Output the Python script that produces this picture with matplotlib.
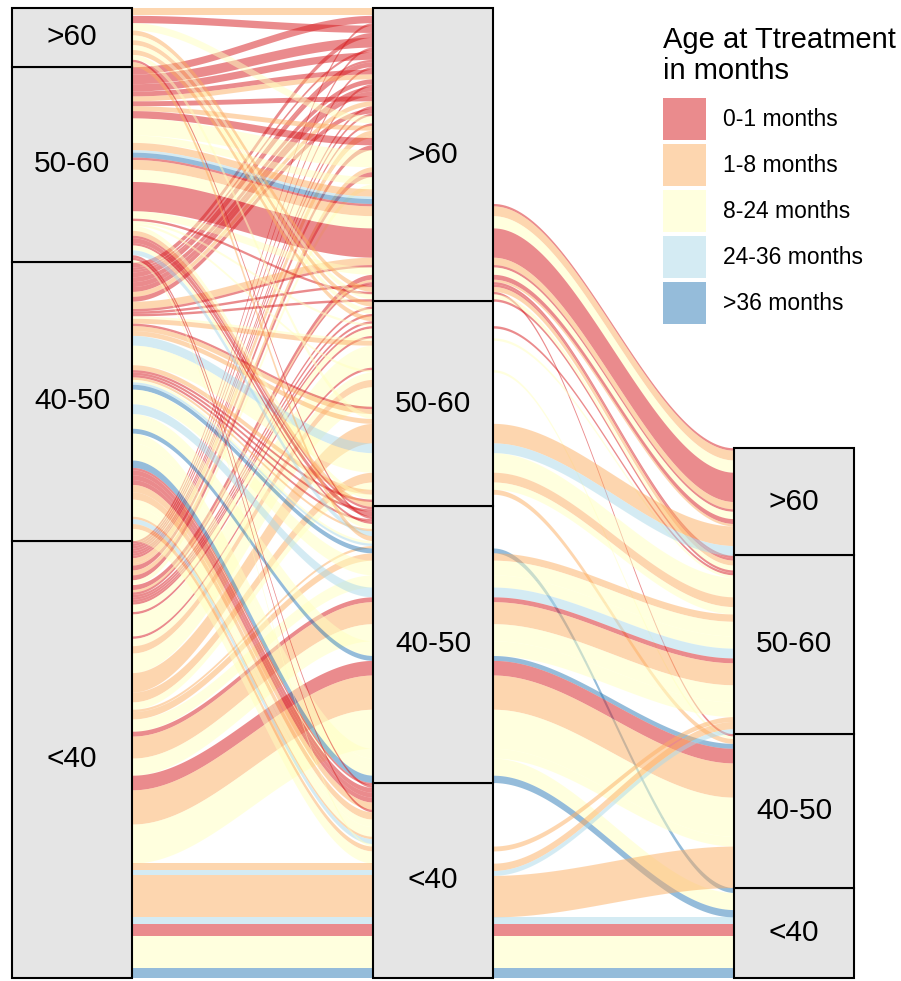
import numpy as np
import matplotlib.pyplot as plt
from matplotlib.patches import Rectangle

plt.rcParams['font.family'] = ['Liberation Sans', 'DejaVu Sans']

# fill groups and strata (strata listed top to bottom)
age_groups = ["0-1 months", "1-8 months", "8-24 months", "24-36 months", ">36 months"]
age_colors = ["#D7191C", "#FDAE61", "#FFFFBF", "#ABD9E9", "#2C7BB6"]
strata = [">60", "50-60", "40-50", "<40"]

# alluvia grouped by stratum on the 2nd axis
# (age group index, stratum on 1st axis, stratum on 3rd axis or None, count)
to_gt60 = [
    (1, ">60", None, 3), (0, "50-60", None, 3), (0, "<40", None, 1), (0, ">60", None, 3),
    (0, "40-50", None, 2), (0, "50-60", None, 4), (0, "<40", None, 1), (0, "40-50", None, 1),
    (0, "50-60", None, 3), (0, "40-50", None, 1), (0, "40-50", None, 2), (0, "<40", None, 1),
    (0, "50-60", None, 2), (1, "50-60", None, 2), (0, "40-50", None, 2), (0, "<40", None, 1),
    (0, "40-50", None, 2), (0, "40-50", None, 2), (0, "50-60", None, 2), (1, "40-50", None, 2),
    (0, "<40", None, 1), (0, "40-50", None, 2), (0, "<40", None, 1), (2, ">60", None, 3),
    (0, "<40", None, 1), (1, "50-60", None, 2), (1, "<40", None, 2), (1, "<40", None, 1),
    (0, "50-60", None, 3), (0, "<40", None, 2), (2, "50-60", None, 7), (1, "<40", None, 2),
    (0, "<40", None, 2), (2, "50-60", None, 3), (2, "<40", None, 2), (1, "50-60", None, 3),
    (3, "50-60", None, 1), (4, "50-60", None, 2),
    (0, "50-60", ">60", 1), (1, "50-60", ">60", 4), (2, "50-60", ">60", 5), (0, "50-60", ">60", 12),
    (1, "40-50", ">60", 3), (0, "40-50", ">60", 1), (2, "50-60", ">60", 3), (0, "<40", ">60", 2),
    (1, "<40", ">60", 1), (0, "<40", "50-60", 1), (0, "40-50", "50-60", 1), (1, ">60", "50-60", 2),
    (0, "50-60", "40-50", 1), (2, ">60", "50-60", 2), (0, "40-50", "50-60", 1),
]
to_50_60 = [
    (1, ">60", None, 2), (0, "<40", None, 1), (2, ">60", None, 2), (0, "<40", None, 1),
    (1, ">60", None, 2), (0, "<40", None, 1), (2, "50-60", None, 1), (0, "<40", "50-60", 1),
    (2, "<40", None, 3), (0, "<40", None, 1), (2, "40-50", "50-60", 1), (1, "40-50", None, 2),
    (2, "<40", None, 9), (0, "<40", None, 1), (2, "50-60", "40-50", 1), (2, "<40", None, 3),
    (1, "<40", None, 3), (2, "<40", None, 8), (0, "40-50", None, 1), (1, "40-50", None, 2),
    (2, ">60", None, 2), (1, "40-50", None, 2),
    (1, "<40", ">60", 8), (3, "40-50", ">60", 4), (2, "40-50", "50-60", 8), (1, "<40", "50-60", 4),
    (2, "<40", "50-60", 3), (1, "40-50", "40-50", 2), (2, "50-60", None, 2), (0, "40-50", None, 1),
    (1, "50-60", None, 2),
]
to_40_50 = [
    (0, "50-60", None, 1), (0, "40-50", None, 1), (0, "50-60", None, 2), (0, ">60", None, 1),
    (0, "40-50", None, 1), (0, "50-60", None, 1), (2, "50-60", None, 2), (1, "40-50", None, 1),
    (3, "50-60", None, 2), (1, ">60", None, 2), (2, "40-50", None, 1), (3, "40-50", None, 1),
    (1, "<40", None, 1),
    (4, "40-50", "<40", 2), (1, "<40", "50-60", 3), (2, "40-50", "50-60", 6), (2, "<40", "50-60", 5),
    (3, "40-50", "50-60", 4), (0, "<40", "50-60", 2), (1, "<40", "50-60", 9), (2, "<40", "50-60", 7),
    (2, "40-50", "50-60", 6), (4, "40-50", "40-50", 2), (0, "<40", "40-50", 6), (1, "<40", "40-50", 14),
    (2, "<40", "40-50", 16), (2, "40-50", "40-50", 4), (2, "40-50", "<40", 7), (4, "40-50", "<40", 3),
]
to_lt40 = [
    (0, "40-50", None, 1), (0, "50-60", None, 1), (0, "40-50", None, 2), (0, "40-50", None, 2),
    (0, "40-50", None, 2), (1, "40-50", None, 3), (0, "50-60", None, 1), (1, "40-50", None, 3),
    (2, "40-50", None, 3), (2, "40-50", None, 4), (1, "40-50", None, 1), (3, "40-50", None, 2),
    (2, "50-60", None, 1),
    (1, "40-50", "50-60", 2), (2, "40-50", None, 5), (1, "<40", "50-60", 3), (3, "<40", "50-60", 2),
    (1, "<40", "40-50", 17), (3, "<40", "<40", 3), (0, "<40", "<40", 5), (2, "<40", "<40", 13),
    (4, "<40", "<40", 4),
]

legend_title = ["Age at Ttreatment", "in months"]

rows = []
for s2, flows in zip(strata, [to_gt60, to_50_60, to_40_50, to_lt40]):
    for g, s1, s3, n in flows:
        rows.append((g, (s1, s2, s3), n))


def stack(k):
    # lodes are stacked from the bottom stratum up, first row on top within a stratum
    pos, ext, y = {}, {}, 0
    for s in reversed(strata):
        lo = y
        for i in reversed(range(len(rows))):
            if rows[i][1][k] == s:
                pos[i] = (y, y + rows[i][2])
                y += rows[i][2]
        if y > lo:
            ext[s] = (lo, y)
    return pos, ext


layout = [stack(k) for k in range(3)]
total = sum(r[2] for r in rows)
w = 1 / 3

fig = plt.figure(figsize=(9.01, 9.81), dpi=100)
ax = fig.add_axes([0, 0, 1, 1])
ax.set_xlim(1 - 72 / 361, 1 + 829 / 361)
ax.set_ylim(-3 * total / 970, total + 8 * total / 970)
ax.axis("off")

t = np.linspace(0, 1, 80)
s = t * t * (3 - 2 * t)
for k in range(2):
    x0, x1 = k + 1 + w / 2, k + 2 - w / 2
    xs = x0 + (x1 - x0) * t
    for i, (g, st, n) in enumerate(rows):
        if i not in layout[k][0] or i not in layout[k + 1][0]:
            continue
        b0, t0 = layout[k][0][i]
        b1, t1 = layout[k + 1][0][i]
        ax.fill_between(xs, b0 + (b1 - b0) * s, t0 + (t1 - t0) * s,
                        color=age_colors[g], alpha=0.5, lw=0, zorder=1)

for k in range(3):
    for name, (lo, hi) in layout[k][1].items():
        ax.add_patch(Rectangle((k + 1 - w / 2, lo), w, hi - lo, facecolor="#E5E5E5",
                               edgecolor="black", lw=1.5, zorder=3))
        ax.text(k + 1, (lo + hi) / 2, name, ha="center", va="center", fontsize=21.5, zorder=4)

# legend
fig.text(663 / 901, 1 - 48 / 981, legend_title[0], fontsize=21, va="baseline")
fig.text(663 / 901, 1 - 79 / 981, legend_title[1], fontsize=21, va="baseline")
for j, (lab, col) in enumerate(zip(age_groups, age_colors)):
    top = 98 + 46 * j
    fig.add_artist(Rectangle((663 / 901, 1 - (top + 42) / 981), 43 / 901, 42 / 981,
                             transform=fig.transFigure, facecolor=col, alpha=0.5, lw=0))
    fig.text(723 / 901, 1 - (top + 21) / 981, lab, fontsize=16.5, va="center")

fig.savefig("out.png", dpi=100, facecolor="white")
